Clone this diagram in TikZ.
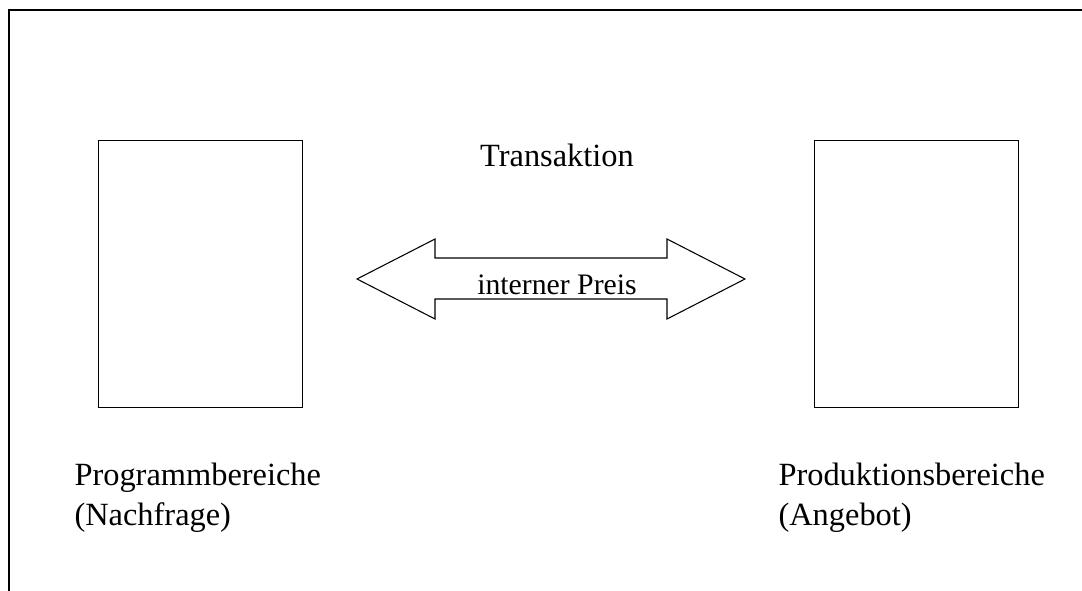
\documentclass[tikz,border=0pt]{standalone}
\usepackage{fontspec}
\setmainfont{Liberation Serif}

\begin{document}
\begin{tikzpicture}[x=0.75pt,y=-0.75pt,line width=0.8pt,black,
  bereich/.style={draw,minimum width=153.4pt,minimum height=200.6pt,inner sep=0pt},
  beschr/.style={anchor=base west,inner sep=0pt,font=\fontsize{24.3}{30}\selectfont},
  titel/.style={anchor=base,inner sep=0pt,font=\fontsize{24.3}{30}\selectfont}]
\useasboundingbox (0,0) rectangle (1082,591);

% Rahmen
\draw[line width=1.2pt] (1082,10) -- (9,10) -- (9,591);

% Bereiche
\node[bereich] (prog) at (200.5,274) {};
\node[bereich] (prod) at (916.5,274) {};

% Doppelpfeil
\draw (357,279) -- (435,239) -- (435,258) -- (667,258) -- (667,239)
  -- (745,279) -- (667,319) -- (667,299) -- (435,299) -- (435,319) -- cycle;
\node[titel,font=\fontsize{22.3}{26}\selectfont] (preis) at (557,295) {interner Preis};
\node[titel] (trans) at (557,167) {Transaktion};

% Beschriftungen
\node[beschr] (progA) at (74,485) {Programmbereiche};
\node[beschr] (progB) at (74,525) {(Nachfrage)};
\node[beschr] (prodA) at (778,485) {Produktionsbereiche};
\node[beschr] (prodB) at (778,525) {(Angebot)};
\end{tikzpicture}
\end{document}
